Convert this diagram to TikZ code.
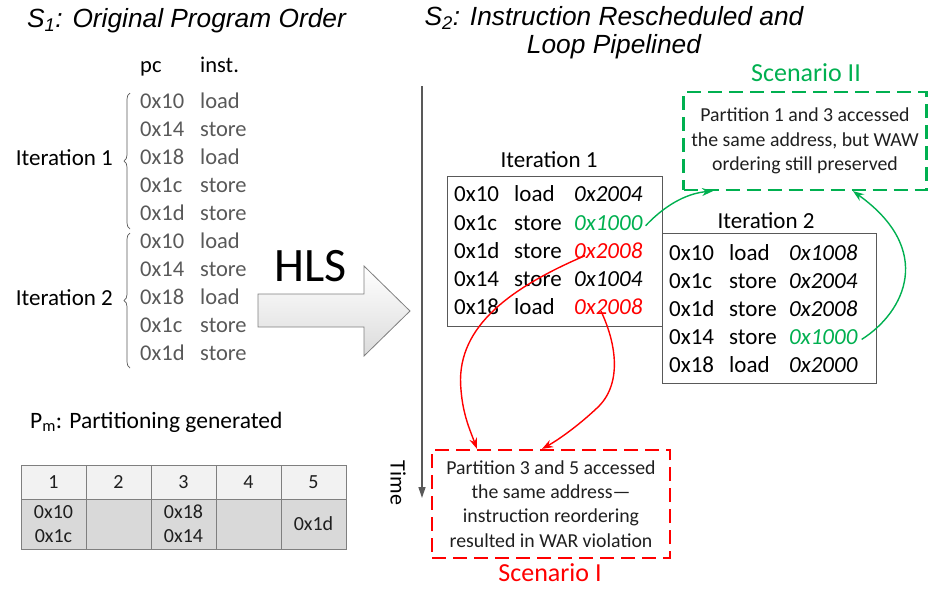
\documentclass[tikz,border=0pt]{standalone}
\usepackage{fontspec}
\setmainfont{Carlito}
\newfontfamily\titlefont{Liberation Sans}
\usetikzlibrary{arrows.meta,decorations.pathreplacing,calc}
\definecolor{listgray}{HTML}{595959}
\definecolor{scgreen}{HTML}{00B050}
\definecolor{scred}{HTML}{FF0000}
\definecolor{txtdark}{HTML}{1F1F1F}
\definecolor{framegray}{HTML}{7F7F7F}
\definecolor{headfill}{HTML}{F2F2F2}
\definecolor{bodyfill}{HTML}{D9D9D9}

\tikzset{
  titletxt/.style={font=\titlefont\itshape\fontsize{26.3}{30}\selectfont, inner sep=0pt},
  listtxt/.style={font=\fontsize{22.5}{26}\selectfont, text=listgray, inner sep=0pt, anchor=base west},
  itlabel/.style={font=\fontsize{23}{27}\selectfont, inner sep=0pt},
  boxtxt/.style={font=\fontsize{23}{26}\selectfont, inner sep=0pt, anchor=base west},
  addrtxt/.style={font=\fontsize{23}{26}\selectfont\itshape, inner sep=0pt, anchor=base west},
  iterbox/.style={draw=listgray, line width=1pt, fill=white, minimum width=215pt, minimum height=150pt, inner sep=0pt},
  scenbox/.style={line width=2.2pt, dash pattern=on 14pt off 7pt, align=center,
                  font=\fontsize{19.8}{24.3}\selectfont, text=txtdark, inner sep=0pt},
  scenlabel/.style={font=\fontsize{26}{30}\selectfont, inner sep=0pt},
  tcell/.style={draw=framegray, line width=0.8pt, minimum width=65pt, inner sep=0pt, outer sep=0pt,
                align=center, font=\fontsize{20}{24}\selectfont, text=txtdark},
  headcell/.style={tcell, fill=headfill, minimum height=34pt},
  bodycell/.style={tcell, fill=bodyfill, minimum height=50pt},
  gconn/.style={draw=scgreen, line width=1.4pt, -{Stealth[length=11pt,width=8pt]}},
  rconn/.style={draw=scred, line width=1.4pt, -{Stealth[length=11pt,width=8pt]}},
}

\begin{document}
\begin{tikzpicture}[x=1pt,y=-1pt]
\useasboundingbox (0,0) rectangle (930,590);

% ---------- titles ----------
\node[titletxt, anchor=base west] (t1) at (27,27) {S\textsubscript{1}: Original Program Order};
\node[titletxt, anchor=base] (t2a) at (614,25) {S\textsubscript{2}: Instruction Rescheduled and};
\node[titletxt, anchor=base] (t2b) at (614,53) {Loop Pipelined};

% ---------- original program order ----------
\node[listtxt, text=black] (hpc) at (140,72) {pc};
\node[listtxt, text=black] (hin) at (200,72) {inst.};
\foreach \p/\s [count=\k from 0] in {0x10/load,0x14/store,0x18/load,0x1c/store,0x1d/store,
                                     0x10/load,0x14/store,0x18/load,0x1c/store,0x1d/store} {
  \node[listtxt] (lpc\k) at (140,101+28*\k+7.5) {\p};
  \node[listtxt] (lin\k) at (200,101+28*\k+7.5) {\s};
}
\node[itlabel, anchor=base east] (lit1) at (113,165) {Iteration 1};
\node[itlabel, anchor=base east] (lit2) at (113,305) {Iteration 2};
\draw[listgray, line width=0.7pt, decorate, decoration={brace, amplitude=6pt}] (130,229) -- (130,93);
\draw[listgray, line width=0.7pt, decorate, decoration={brace, amplitude=6pt}] (130,368) -- (130,233);

% ---------- HLS block arrow ----------
\shade[top color=white, bottom color=gray!28, draw=framegray, line width=0.8pt]
  (258,294) -- (364,294) -- (364,266) -- (410,311) -- (364,356) -- (364,327) -- (258,327) -- cycle;
\node[font=\fontsize{48}{52}\selectfont, inner sep=0pt] (hls) at (311,266) {HLS};

% ---------- time axis ----------
\coordinate (tA) at (422,86);
\coordinate (tB) at (422,498);
\draw[draw=listgray, line width=1.3pt, -{Triangle[length=11pt,width=7pt]}] (tA) -- (tB);
\node[font=\fontsize{22}{26}\selectfont, inner sep=0pt, rotate=-90] (time) at (398,483) {Time};

% ---------- iteration 1 ----------
\node[itlabel] (it1lab) at (549,160) {Iteration 1};
\node[iterbox] (it1) at (554.5,251) {};
\foreach \p/\s/\a/\c [count=\k from 0] in {0x10/load/0x2004/black,0x1c/store/0x1000/scgreen,
      0x1d/store/0x2008/scred,0x14/store/0x1004/black,0x18/load/0x2008/scred} {
  \node[boxtxt] (i1p\k) at (454,194+28.25*\k+7.8) {\p};
  \node[boxtxt] (i1s\k) at (514,194+28.25*\k+7.8) {\s};
  \node[addrtxt, text=\c] (i1a\k) at (574,194+28.25*\k+7.8) {\a};
}

% ---------- iteration 2 ----------
\node[itlabel] (it2lab) at (766,221) {Iteration 2};
\node[iterbox, minimum width=214pt] (it2) at (769,308) {};
\foreach \p/\s/\a/\c [count=\k from 0] in {0x10/load/0x1008/black,0x1c/store/0x2004/black,
      0x1d/store/0x2008/black,0x14/store/0x1000/scgreen,0x18/load/0x2000/black} {
  \node[boxtxt] (i2p\k) at (669,253+28*\k+7.8) {\p};
  \node[boxtxt] (i2s\k) at (729,253+28*\k+7.8) {\s};
  \node[addrtxt, text=\c] (i2a\k) at (789,253+28*\k+7.8) {\a};
}

% ---------- scenarios ----------
\node[scenbox, draw=scgreen, minimum width=243pt, minimum height=98pt] (sc2) at (805,141)
  {Partition 1 and 3 accessed\\the same address, but WAW\\ordering still preserved};
\node[scenlabel, text=scgreen] (sc2lab) at (806,73) {Scenario II};

\node[scenbox, draw=scred, minimum width=238pt, minimum height=108pt] (sc1) at (551,504)
  {Partition 3 and 5 accessed\\the same address\textemdash\\instruction reordering\\resulted in WAR violation};
\node[scenlabel, text=scred] (sc1lab) at (550,573) {Scenario I};

% ---------- dependence connectors ----------
\draw[gconn] ([xshift=3pt,yshift=-3pt]i1a1.east) .. controls (668,202) and (690,193) .. ([xshift=-92pt]sc2.south);
\draw[gconn] ([xshift=4pt,yshift=-2pt]i2a3.east) .. controls (905,312) and (935,250) .. ([xshift=48pt]sc2.south);
\draw[rconn] ([xshift=11pt,yshift=3pt]i1a2.south west) .. controls (505,290) and (455,330) .. (461,390)
  .. controls (463,415) and (470,430) .. ([xshift=-74pt]sc1.north);
\draw[rconn] ([xshift=27pt,yshift=4pt]i1a4.south west) .. controls (617,345) and (622,385) .. (597,408)
  .. controls (578,426) and (558,440) .. ([xshift=-9pt]sc1.north);

% ---------- partition table ----------
\node[itlabel, anchor=base west, font=\fontsize{23.5}{27}\selectfont] (pm) at (30,428) {P\textsubscript{m}: Partitioning generated};
\foreach \h/\b [count=\k from 0] in {1/{0x10\\0x1c},2/{},3/{0x18\\0x14},4/{},5/{0x1d}} {
  \node[headcell] (th\k) at (53.5+65*\k,482) {\h};
  \node[bodycell] (tb\k) at (53.5+65*\k,524) {\b};
}
\end{tikzpicture}
\end{document}
